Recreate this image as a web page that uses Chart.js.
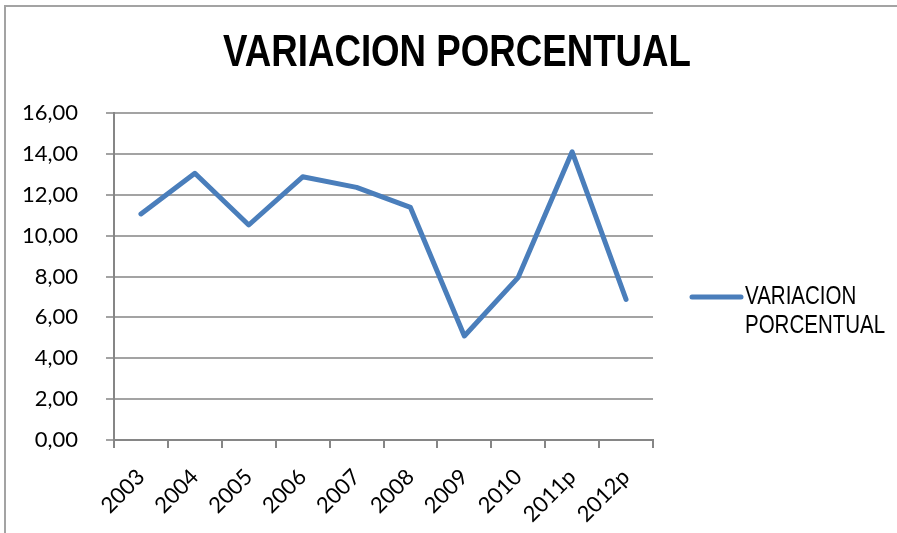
<!DOCTYPE html>
<html>
<head>
<meta charset="utf-8">
<title>Variacion porcentual</title>
<script src="https://cdn.jsdelivr.net/npm/chart.js@4/dist/chart.umd.min.js"></script>
<style>
  html, body { margin: 0; padding: 0; background: #fff; }
  #wrap { position: relative; width: 897px; height: 533px; overflow: hidden; }
  #frame { position: absolute; left: 4px; top: 5px; width: 920px; height: 560px;
           border: 2px solid #a3a3a3; box-sizing: border-box; }
  canvas { position: absolute; left: 0; top: 0; }
</style>
</head>
<body>
<div id="wrap">
  <div id="frame"></div>
  <canvas id="lineChart" width="897" height="533"></canvas>
</div>
<script>
// data
const years = ['2003','2004','2005','2006','2007','2008','2009','2010','2011p','2012p'];
const variacion = [11.06, 13.05, 10.52, 12.88, 12.36, 11.38, 5.09, 7.96, 14.10, 6.88];
const yTicks = [0, 2, 4, 6, 8, 10, 12, 14, 16];
const chartTitle = 'VARIACION PORCENTUAL';

const LINE_BLUE = '#4a7ebb';
const GRID = '#a3a3a3';

// no narrow font installed, so squeeze Liberation Sans horizontally (Arial Narrow is ~82%)
function narrowText(ctx, txt, x, y, font, squeeze, align){
  ctx.save();
  ctx.font = font;
  ctx.textBaseline = 'middle';
  const w = ctx.measureText(txt).width * squeeze;
  const left = align === 'center' ? x - w / 2 : x;
  ctx.translate(left, y);
  ctx.scale(squeeze, 1);
  ctx.fillText(txt, 0, 0);
  ctx.restore();
}

// title and legend drawn by hand (title centred on whole box, legend label wraps)
const decor = {
  id: 'decor',
  afterDraw(chart){
    const ctx = chart.ctx;
    const ds = chart.data.datasets[0];
    const words = ds.label.split(' ');
    ctx.fillStyle = '#000';
    narrowText(ctx, chartTitle, 457, 54, 'bold 45px "Liberation Sans", Arial, sans-serif', 0.815, 'center');

    ctx.save();
    ctx.strokeStyle = ds.borderColor;
    ctx.lineWidth = 5;
    ctx.lineCap = 'round';
    ctx.beginPath();
    ctx.moveTo(692, 297);
    ctx.lineTo(741, 297);
    ctx.stroke();
    ctx.restore();
    ctx.fillStyle = '#000';
    narrowText(ctx, words[0], 745, 297, '25px "Liberation Sans", Arial, sans-serif', 0.82, 'left');
    narrowText(ctx, words[1], 745, 326, '25px "Liberation Sans", Arial, sans-serif', 0.82, 'left');
  }
};

const ctx = document.getElementById('lineChart').getContext('2d');
new Chart(ctx, {
  type: 'line',
  data: {
    labels: years,
    datasets: [{
      label: 'VARIACION PORCENTUAL',
      data: variacion,
      borderColor: LINE_BLUE,
      borderWidth: 5,
      borderCapStyle: 'round',
      borderJoinStyle: 'round',
      pointRadius: 0,
      tension: 0,
      fill: false
    }]
  },
  options: {
    responsive: false,
    animation: false,
    layout: { padding: { top: 113, left: 0, right: 244, bottom: 0 } },
    plugins: {
      legend: { display: false },
      tooltip: { enabled: false },
      title: { display: false }
    },
    scales: {
      y: {
        min: 0, max: 16,
        afterBuildTicks: s => { s.ticks = yTicks.map(v => ({ value: v })); },
        afterFit: s => { s.width = 114; },
        ticks: {
          color: '#000',
          padding: 28,
          font: { family: 'Lato, sans-serif', size: 22 },
          callback: v => v.toFixed(2).replace('.', ',')
        },
        grid: { color: GRID, lineWidth: 2, tickLength: 8, tickColor: GRID },
        border: { color: '#868686', width: 2 }
      },
      x: {
        offset: true,
        afterFit: s => { s.height = 93; },
        ticks: {
          color: '#000',
          minRotation: 45, maxRotation: 45,
          padding: 16,
          font: { family: 'Lato, sans-serif', size: 22 }
        },
        grid: { offset: true, drawOnChartArea: false, tickLength: 8, tickColor: '#868686', lineWidth: 2 },
        border: { color: '#868686', width: 2 }
      }
    }
  },
  plugins: [decor]
});
</script>
</body>
</html>
